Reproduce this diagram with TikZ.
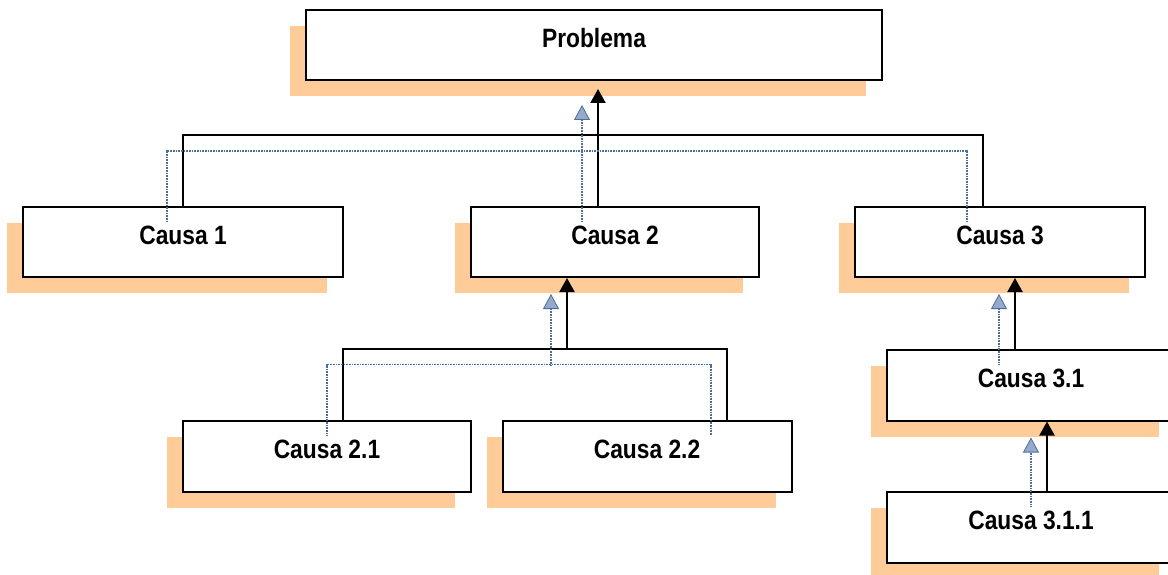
\documentclass[tikz,border=0pt]{standalone}
\usepackage{fontspec}
\newfontfamily\labfont{Liberation Sans}[FakeStretch=0.86]
\usetikzlibrary{arrows.meta,calc,shadows}
\definecolor{peach}{HTML}{FFCC99}
\definecolor{shline}{HTML}{4E6E9A}
\definecolor{shfill}{HTML}{93AACB}
\begin{document}
\begin{tikzpicture}[x=1pt,y=-1pt,
  box/.style={draw=black, line width=2pt, fill=white, inner sep=0pt,
    minimum height=70pt, text height=19pt, text depth=14pt,
    font=\labfont\bfseries\fontsize{26.5}{30}\selectfont,
    general shadow={fill=peach, shadow xshift=-16pt, shadow yshift=-16pt}},
  conn/.style={draw=black, line width=2pt},
  sconn/.style={draw=shline, line width=1.5pt, dash pattern=on 1pt off 0.6pt},
  btip/.style={-{Triangle[width=15pt,length=14pt]}},
  stip/.style={-{Triangle[width=16pt,length=15pt,fill=shfill,line width=0.8pt]}}
]
\useasboundingbox (0,0) rectangle (1168,575);

\node[box, minimum width=576pt] (p) at (594,45) {Problema};
\node[box, minimum width=320pt] (c1) at (183,242) {Causa 1};
\node[box, minimum width=288pt] (c2) at (615,242) {Causa 2};
\node[box, minimum width=290pt] (c3) at (1000,242) {Causa 3};
\node[box, minimum width=288pt, minimum height=71pt] (c21) at (327,456) {Causa 2.1};
\node[box, minimum width=289pt, minimum height=71pt] (c22) at (647,456) {Causa 2.2};
\node[box, minimum width=288pt, minimum height=71pt] (c31) at (1031,385) {Causa 3.1};
\node[box, minimum width=288pt, minimum height=71pt] (c311) at (1031,527) {Causa 3.1.1};

% level 1 bus
\coordinate (b1) at ($(c1.north)+(0,-71)$);
\coordinate (b2) at ($(c3.north)+(-17,-71)$);
\coordinate (a1) at ($(c2.north)+(-17,0)$);
\draw[conn] (c1.north) -- (b1) -- (b2) -- (b2 |- c3.north);
\draw[conn,btip,shorten >=8pt] (a1) -- (a1 |- p.south);
\draw[sconn] ($(c1.north)+(-16,16)$) -- ($(b1)+(-16,16)$) -- ($(b2)+(-16,16)$) -- ($(b2 |- c3.north)+(-16,16)$);
\draw[sconn,stip,shorten >=8pt] ($(a1)+(-16,16)$) -- ($(a1 |- p.south)+(-16,16)$);

% level 2 bus
\coordinate (m1) at ($(c21.north)+(16,-71)$);
\coordinate (m2) at ($(c22.north)+(80,-71)$);
\coordinate (a2) at ($(c2.south)+(-48,72)$);
\draw[conn] (m1 |- c21.north) -- (m1) -- (m2) -- (m2 |- c22.north);
\draw[conn,btip] (a2) -- (a2 |- c2.south);
\draw[sconn] ($(m1 |- c21.north)+(-16,16)$) -- ($(m1)+(-16,16)$) -- ($(m2)+(-16,16)$) -- ($(m2 |- c22.north)+(-16,16)$);
\draw[sconn,stip] ($(a2)+(-16,16)$) -- ($(a2 |- c2.south)+(-16,16)$);

% causa 3 chain
\coordinate (a3) at ($(c31.north)+(-16,0)$);
\draw[conn,btip] (a3) -- (a3 |- c3.south);
\draw[sconn,stip] ($(a3)+(-16,16)$) -- ($(a3 |- c3.south)+(-16,16)$);
\coordinate (a4) at ($(c311.north)+(16,0)$);
\draw[conn,btip] (a4) -- (a4 |- c31.south);
\draw[sconn,stip] ($(a4)+(-16,16)$) -- ($(a4 |- c31.south)+(-16,16)$);
\end{tikzpicture}
\end{document}
